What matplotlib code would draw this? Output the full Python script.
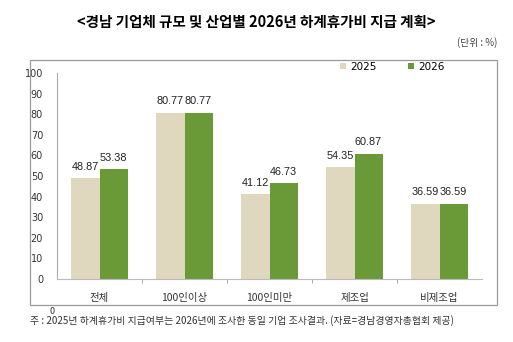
import matplotlib
matplotlib.use("Agg")
import matplotlib.pyplot as plt
from matplotlib.patches import Rectangle
import numpy as np

plt.rcParams['font.family'] = ['Noto Sans CJK KR', 'DejaVu Sans']

categories = ['전체', '100인이상', '100인미만', '제조업', '비제조업']
v2025 = [48.87, 80.77, 41.12, 54.35, 36.59]
v2026 = [53.38, 80.77, 46.73, 60.87, 36.59]
series_names = ['2025', '2026']
yticks = list(range(0, 101, 10))

c25 = '#E0D8BE'
c26 = '#6A9A38'

fig = plt.figure(figsize=(5.13, 3.42), dpi=100)
W, H = 513, 342

# outer box
fig.patches.append(Rectangle((30 / W, 1 - 305 / H), 467 / W, 245 / H, transform=fig.transFigure,
                             fill=False, edgecolor='#9a9a9a', linewidth=0.9))

ax = fig.add_axes([57 / W, 1 - 279 / H, 425 / W, 206 / H])
x = np.arange(len(categories))
bw = 0.33
ax.bar(x - bw / 2, v2025, bw, color=c25, label=series_names[0], zorder=2)
ax.bar(x + bw / 2, v2026, bw, color=c26, label=series_names[1], zorder=2)

for xi, a, b in zip(x, v2025, v2026):
    ax.text(xi - bw / 2, a + 3, f'{a:.2f}', ha='center', va='bottom', fontsize=7.8,
            family='Liberation Sans', color='#222222')
    ax.text(xi + bw / 2, b + 3, f'{b:.2f}', ha='center', va='bottom', fontsize=7.8,
            family='Liberation Sans', color='#222222')

ax.set_xlim(-0.5, len(categories) - 0.5)
ax.set_ylim(0, 100)
ax.set_yticks(yticks)
ax.set_yticklabels([str(t) for t in yticks], fontsize=7, family='DejaVu Sans', color='#333333')
ax.set_xticks(x)
ax.set_xticklabels(categories, fontsize=7.5, color='#333333')
ax.tick_params(axis='x', length=0, pad=10)
ax.set_xticks(np.arange(0.5, len(categories) - 1, 1), minor=True)
ax.tick_params(axis='x', which='minor', length=3, color='#999999')
ax.tick_params(axis='y', length=0, pad=10)
for s in ['top', 'right']:
    ax.spines[s].set_visible(False)
ax.spines['left'].set_color('#aaaaaa')
ax.spines['bottom'].set_color('#bbbbbb')
ax.spines['left'].set_linewidth(0.8)
ax.spines['bottom'].set_linewidth(0.8)

leg = ax.legend(loc='upper right', bbox_to_anchor=(0.935, 1.10), ncol=2, frameon=False,
                handlelength=0.6, handleheight=0.6, columnspacing=3.0,
                handletextpad=0.4, prop={'family': 'DejaVu Sans', 'size': 7.5})

fig.text(256 / W, 1 - 22 / H, '<경남 기업체 규모 및 산업별 2026년 하계휴가비 지급 계획>',
         ha='center', va='center', fontsize=10.5, fontweight='bold')
fig.text(497 / W, 1 - 43 / H, '(단위 : %)', ha='right', va='center', fontsize=7, color='#444444')
fig.text(30 / W, 1 - 321 / H,
         '주 : 2025년 하계휴가비 지급여부는 2026년에 조사한 동일 기업 조사결과. (자료=경남경영자총협회 제공)',
         ha='left', va='center', fontsize=7.1, color='#333333')
fig.text(52 / W, 1 - 311 / H, '0', ha='center', va='center', fontsize=6.5, color='#333333')

fig.savefig('out.png', dpi=100)
